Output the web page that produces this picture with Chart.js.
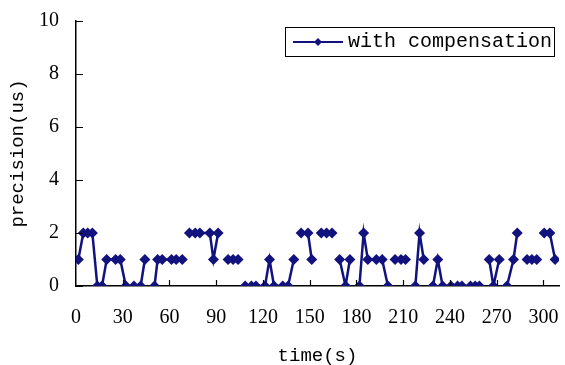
<!DOCTYPE html>
<html>
<head>
<meta charset="utf-8">
<script src="https://cdn.jsdelivr.net/npm/chart.js@4"></script>
<style>
    html, body { margin: 0; padding: 0; background: #fff; }
    #wrap { width: 565px; height: 365px; }
</style>
</head>
<body>
<div id="wrap"><canvas id="chart" width="565" height="365"></canvas></div>
<script>
// sample times (s) and measured precision (us); null = missing sample (line break)
const times = [
    1.5, 4.7, 7.5, 10.5, 13.7, 16.7, 19.7, 25.4, 28.4, 32, 37.2, 41.5, 44.2, 47.3,
    50.4, 52.4, 55.3, 61.3, 64.3, 68.2, 70.5,
    72.8, 76.5, 79.5, 85.9, 88.2, 91.2, 94.4,
    97.6, 100.8, 104, 106.4,
    108.6, 112.6, 115.5, 121.3, 124.2, 127.1, 132.7, 136.1, 139.8, 142.1,
    144.5, 148.9, 151.3, 154.5,
    157.4, 160.8, 164.3, 166.8,
    169.2, 173, 175.8, 178.9,
    181.9, 184.6, 187.3, 192.8, 196.5, 200.2, 202.5,
    204.8, 208.6, 211.5, 214.6,
    217.8, 220.5, 223.2, 226.1,
    229.1, 232.2, 235.3, 240.7, 244.9, 247.7, 253.2, 256.2, 258.9, 262,
    265.2, 267.9, 271.6, 274,
    276.6, 280.8, 283.2, 286.4,
    289.5, 292.6, 295.7, 298.1,
    300.5, 304.1, 307.5
];
const precision = [
    1, 2, 2, 2, 0, 0, 1, 1, 1, 0, 0, 0, 1, null,
    0, 1, 1, 1, 1, 1, null,
    2, 2, 2, 2, 1, 2, null,
    1, 1, 1, null,
    0, 0, 0, 0, 1, 0, 0, 0, 1, null,
    2, 2, 1, null,
    2, 2, 2, null,
    1, 0, 1, null,
    0, 2, 1, 1, 1, 0, null,
    1, 1, 1, null,
    0, 2, 1, null,
    0, 1, 0, 0, 0, 0, 0, 0, 0, null,
    1, 0, 1, null,
    0, 1, 2, null,
    1, 1, 1, null,
    2, 2, 1
];
const xTicks = [0, 30, 60, 90, 120, 150, 180, 210, 240, 270, 300];
const yTicks = [0, 2, 4, 6, 8, 10];
const seriesName = 'with compensation';

const navy = '#12127f';
const monoFont = '"Liberation Mono", "DejaVu Sans Mono", monospace';
const serifFont = '"Liberation Serif", "DejaVu Serif", serif';

// inward tick marks + legend box drawn inside the plot
const axisDecor = {
    id: 'axisDecor',
    afterDraw(chart) {
        const ctx = chart.ctx;
        const area = chart.chartArea;
        const xs = chart.scales.x;
        const ys = chart.scales.y;
        ctx.save();
        ctx.strokeStyle = '#000';
        ctx.lineWidth = 1.2;
        ctx.beginPath();
        yTicks.forEach(v => {
            const py = Math.round(ys.getPixelForValue(v)) + 0.5;
            ctx.moveTo(area.left, py);
            ctx.lineTo(area.left + 7, py);
        });
        xTicks.forEach(v => {
            if (v === 0) return;
            const px = Math.round(xs.getPixelForValue(v)) + 0.5;
            ctx.moveTo(px, area.bottom);
            ctx.lineTo(px, area.bottom - 6);
        });
        ctx.stroke();

        // legend
        const bx = area.right - 274, by = area.top + 6, bw = 269, bh = 29;
        ctx.lineWidth = 1;
        ctx.strokeRect(bx + 0.5, by + 0.5, bw, bh);
        const ly = by + bh / 2 + 0.5;
        ctx.strokeStyle = navy;
        ctx.lineWidth = 2;
        ctx.beginPath();
        ctx.moveTo(bx + 8, ly);
        ctx.lineTo(bx + 58, ly);
        ctx.stroke();
        ctx.fillStyle = navy;
        ctx.beginPath();
        ctx.moveTo(bx + 33, ly - 4);
        ctx.lineTo(bx + 37, ly);
        ctx.lineTo(bx + 33, ly + 4);
        ctx.lineTo(bx + 29, ly);
        ctx.closePath();
        ctx.fill();
        ctx.fillStyle = '#000';
        ctx.font = '20px ' + monoFont;
        ctx.textBaseline = 'middle';
        ctx.textAlign = 'left';
        ctx.fillText(seriesName, bx + 63, ly);
        ctx.restore();
    }
};

const points = times.map((t, i) => ({ x: t, y: precision[i] }));

new Chart(document.getElementById('chart'), {
    type: 'line',
    data: {
        datasets: [{
            label: seriesName,
            data: points,
            borderColor: navy,
            backgroundColor: navy,
            borderWidth: 2.5,
            pointStyle: 'rectRot',
            pointRadius: 5.5,
            pointBorderWidth: 0,
            pointBackgroundColor: navy,
            spanGaps: false,
            tension: 0
        }]
    },
    options: {
        responsive: false,
        animation: false,
        layout: { padding: { top: 21, right: 6, left: 0, bottom: 0 } },
        plugins: {
            legend: { display: false },
            tooltip: { enabled: false }
        },
        scales: {
            x: {
                type: 'linear',
                min: 0,
                max: 310,
                afterBuildTicks: scale => { scale.ticks = xTicks.map(v => ({ value: v })); },
                afterFit: scale => {
                    scale.height = 79;
                    scale.paddingLeft = 0;
                    scale.paddingRight = 0;
                },
                grid: { display: false, drawTicks: false },
                border: { display: true, color: '#000', width: 1.5 },
                ticks: {
                    color: '#000',
                    padding: 20,
                    maxRotation: 0,
                    font: { family: serifFont, size: 20 }
                },
                title: {
                    display: true,
                    text: 'time(s)',
                    color: '#000',
                    padding: { top: 0, bottom: 0 },
                    font: { family: monoFont, size: 19, lineHeight: 1 }
                }
            },
            y: {
                min: 0,
                max: 10,
                afterBuildTicks: scale => { scale.ticks = yTicks.map(v => ({ value: v })); },
                afterFit: scale => {
                    scale.width = 76;
                    scale.paddingTop = 0;
                    scale.paddingBottom = 0;
                },
                grid: { display: false, drawTicks: false },
                border: { display: true, color: '#000', width: 1.5 },
                ticks: {
                    color: '#000',
                    padding: 17,
                    font: { family: serifFont, size: 20 }
                },
                title: {
                    display: true,
                    text: 'precision(us)',
                    color: '#000',
                    padding: { top: 7, bottom: 0 },
                    font: { family: monoFont, size: 19 }
                }
            }
        }
    },
    plugins: [axisDecor]
});
</script>
</body>
</html>
